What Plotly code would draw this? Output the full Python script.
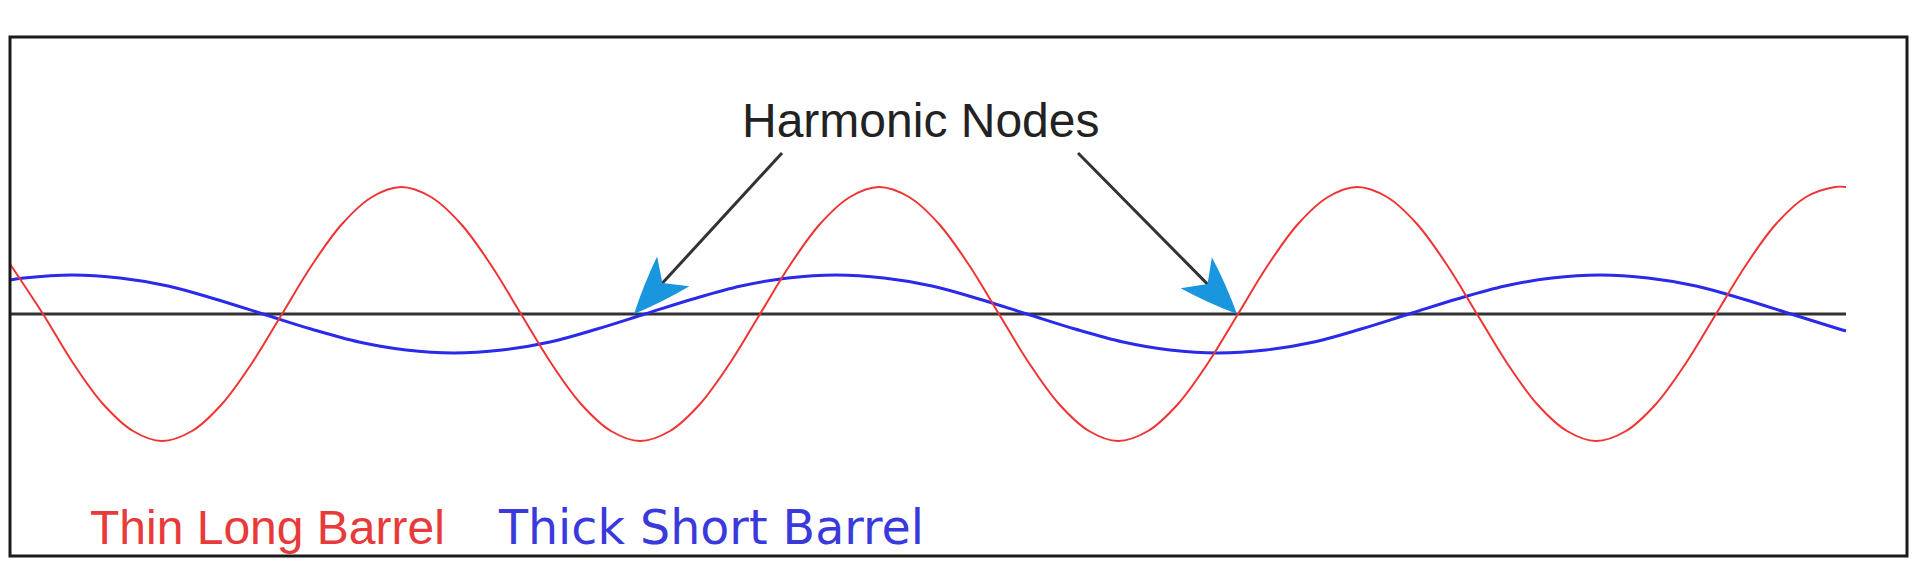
import numpy as np
import plotly.graph_objects as go

# ---- data (x measured from the left edge of the frame, y = displacement from the centre line) ----
red_x = [0, 33, 63, 93, 123, 152, 182, 212, 242, 272, 302, 332, 362, 391, 421, 451, 481,
         511, 541, 571, 601, 630, 660, 690, 720, 750, 780, 810, 840, 869, 899, 929, 959,
         989, 1019, 1049, 1079, 1108, 1138, 1168, 1198, 1228, 1258, 1288, 1318, 1347, 1377, 1407, 1437,
         1467, 1497, 1527, 1557, 1586, 1616, 1646, 1676, 1706, 1736, 1766, 1796, 1825, 1836]
red_y = [50, 0, -49, -90, -117, -127, -117, -90, -49, 0, 49, 90, 117, 127, 117, 90, 49,
         0, -49, -90, -117, -127, -117, -90, -49, 0, 49, 90, 117, 127, 117, 90, 49,
         0, -49, -90, -117, -127, -117, -90, -49, 0, 49, 90, 117, 127, 117, 90, 49,
         0, -49, -90, -117, -127, -117, -90, -49, 0, 49, 90, 117, 127, 127]

blue_x = [0, 14, 62, 110, 158, 205, 253, 301, 349, 396, 444, 492, 540, 587, 635, 683, 731, 778,
          826, 874, 922, 969, 1017, 1065, 1113, 1160, 1208, 1256, 1304, 1351, 1399, 1447, 1495, 1542,
          1590, 1638, 1686, 1733, 1781, 1829, 1836]
blue_y = [34, 36, 39, 36, 28, 15, 0, -15, -28, -36, -39, -36, -28, -15, 0, 15, 28, 36,
          39, 36, 28, 15, 0, -15, -28, -36, -39, -36, -28, -15, 0, 15, 28, 36,
          39, 36, 28, 15, 0, -15, -17]

axis_x = [0, 1836]
axis_y = [0, 0]

node_x = [624, 1227]
node_y = [0, 0]
pointer_tail_x = [772, 1068]
pointer_tail_y = [161, 161]

title_text = "Harmonic Nodes"
legend_labels = ["Thin Long Barrel", "Thick Short Barrel"]

RED = "#F03434"
BLUE = "#2A2AEA"
RED_TXT = "#E83A3A"
BLUE_TXT = "#3A3ADC"
HEAD = "#1996DE"
DARK = "#333333"

fig = go.Figure()
fig.add_trace(go.Scatter(x=axis_x, y=axis_y, mode="lines",
                         line=dict(color=DARK, width=3), hoverinfo="skip"))
fig.add_trace(go.Scatter(x=blue_x, y=blue_y, mode="lines",
                         line=dict(color=BLUE, width=3, shape="spline", smoothing=1.0),
                         hoverinfo="skip"))
fig.add_trace(go.Scatter(x=red_x, y=red_y, mode="lines",
                         line=dict(color=RED, width=2, shape="spline", smoothing=1.0),
                         hoverinfo="skip"))

shapes = []
# frame
shapes.append(dict(type="rect", xref="paper", yref="paper", x0=0, x1=1, y0=0, y1=1,
                   line=dict(color="#1a1a1a", width=3), layer="above"))

head_len, notch_len, half_w = 58, 42, 22
for tx, ty, sx, sy in zip(node_x, node_y, pointer_tail_x, pointer_tail_y):
    d = np.array([sx - tx, sy - ty], dtype=float)
    u = d / np.linalg.norm(d)
    n = np.array([-u[1], u[0]])
    tip = np.array([tx, ty], dtype=float)
    notch = tip + u * notch_len
    wa = tip + u * head_len + n * half_w
    wb = tip + u * head_len - n * half_w
    ca = tip + u * (head_len * 0.5) + n * (half_w * 0.6)
    cb = tip + u * (head_len * 0.5) - n * (half_w * 0.6)
    line_end = tip + u * (notch_len - 6)
    shapes.append(dict(type="line", xref="x", yref="y", x0=sx, y0=sy, x1=line_end[0],
                       y1=line_end[1], line=dict(color=DARK, width=3), layer="above"))
    path = ("M {:.1f},{:.1f} Q {:.1f},{:.1f} {:.1f},{:.1f} L {:.1f},{:.1f} "
            "L {:.1f},{:.1f} Q {:.1f},{:.1f} {:.1f},{:.1f} Z").format(
        tip[0], tip[1], ca[0], ca[1], wa[0], wa[1], notch[0], notch[1],
        wb[0], wb[1], cb[0], cb[1], tip[0], tip[1])
    shapes.append(dict(type="path", xref="x", yref="y", path=path,
                       fillcolor=HEAD, line=dict(width=0), layer="above"))

annotations = [
    dict(x=910, y=194, xref="x", yref="y", text=title_text, showarrow=False,
         font=dict(family="Liberation Sans, Arial, sans-serif", size=48, color="#222222"),
         xanchor="center", yanchor="middle"),
    dict(x=78, y=-213, xref="x", yref="y", text=legend_labels[0], showarrow=False,
         font=dict(family="Liberation Sans, Arial, sans-serif", size=48, color=RED_TXT),
         xanchor="left", yanchor="middle"),
    dict(x=486, y=-213, xref="x", yref="y", text=legend_labels[1], showarrow=False,
         font=dict(family="DejaVu Sans, Verdana, sans-serif", size=47.5, color=BLUE_TXT),
         xanchor="left", yanchor="middle"),
]

fig.update_layout(
    width=1912, height=574,
    margin=dict(l=2, r=13, t=29, b=26),
    paper_bgcolor="white", plot_bgcolor="white",
    showlegend=False,
    shapes=shapes,
    annotations=annotations,
    xaxis=dict(range=[0, 1897], visible=False, fixedrange=True),
    yaxis=dict(range=[-242, 277], visible=False, fixedrange=True),
)

fig.write_html("out.html")
